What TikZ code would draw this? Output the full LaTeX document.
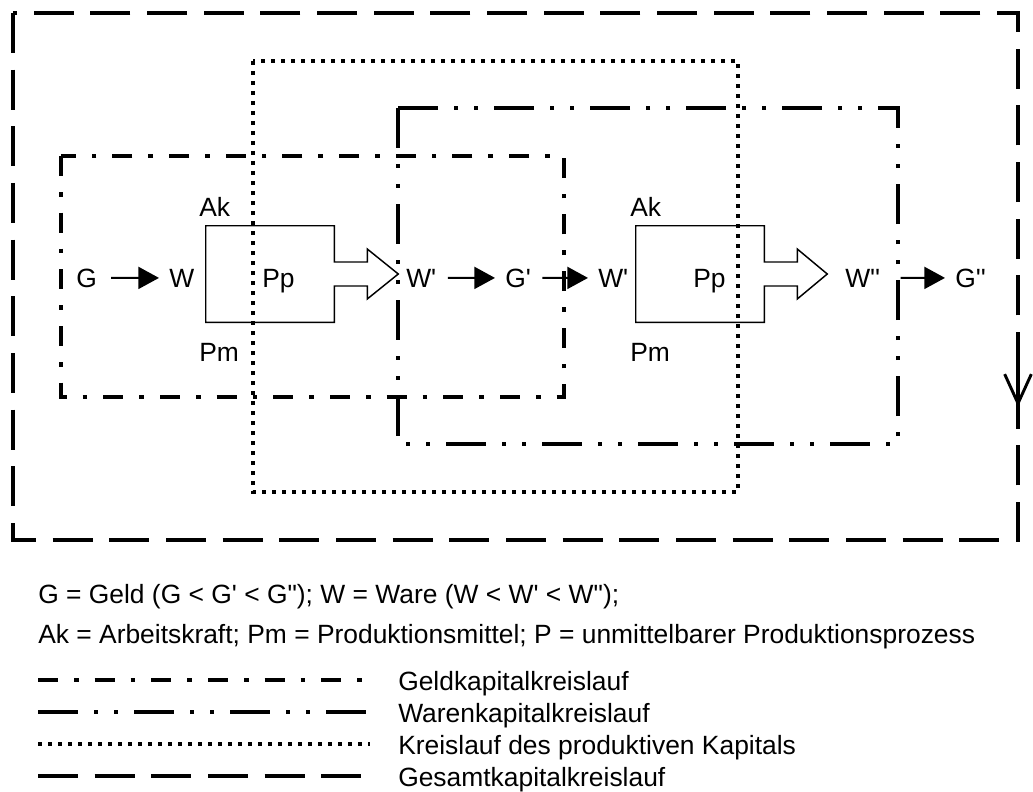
\documentclass[tikz,border=0pt]{standalone}
\usepackage{fontspec}
\newfontfamily\lab{Liberation Sans}
\usetikzlibrary{arrows.meta,calc}

\begin{document}
\begin{tikzpicture}[x=0.75pt,y=-0.75pt,
  lbl/.style={inner sep=0pt,anchor=base west,font=\lab\fontsize{19.8}{23}\selectfont},
  ar/.style={-{Triangle[length=15.5pt,width=16.5pt]},line width=1.5pt,
             shorten <=8.5pt,shorten >=7.5pt},
  proc/.style={minimum width=96pt,minimum height=72pt,inner sep=0pt},
  blk/.style={line width=1.1pt,line join=miter},
  geld/.style={line width=3pt,dash pattern=on 15pt off 12pt on 3.5pt off 12pt},
  waren/.style={line width=3pt,dash pattern=on 30pt off 12pt on 3pt off 12pt on 3pt off 12pt},
  prod/.style={line width=3pt,dash pattern=on 3pt off 4.5pt},
  gesamt/.style={line width=3pt,dash pattern=on 30pt off 12.5pt}]
\useasboundingbox (0,0) rectangle (1033,792);

\draw[gesamt] (13,13) rectangle (1018,540);
\draw[prod] (253,61) rectangle (738,492);
\draw[waren] (398,108) rectangle (898,444);
\draw[geld] (61,156) rectangle (564,397);
\coordinate (ga) at (1018,356);
\coordinate (gb) at (1018,407);
\draw[line width=3pt,-{Straight Barb[length=22pt,width=20pt,line width=2.2pt]}] (ga) -- (gb);

\node[lbl] (g1) at (76,287) {G};
\node[lbl] (w1) at (169,287) {W};
\node[proc] (p1) at (270,274) {};
\node[lbl] (ak1) at (199,216) {Ak};
\node[lbl] (pp1) at (262,287) {Pp};
\node[lbl] (pm1) at (199,361) {Pm};
\node[lbl] (w2) at (406,287) {W'};
\node[lbl] (g2) at (505,287) {G'};
\node[lbl] (w3) at (598,287) {W'};
\node[proc] (p2) at (700,274) {};
\node[lbl] (ak2) at (630,216) {Ak};
\node[lbl] (pp2) at (693,287) {Pp};
\node[lbl] (pm2) at (630,361) {Pm};
\node[lbl] (w4) at (845,287) {W''};
\node[lbl] (g3) at (955,287) {G''};

\draw[blk] ($(p1.east)+(0,-12)$) -- ++(33,0) -- ++(0,-13) -- ($(p1.east)+(64,0)$)
  -- ($(p1.east)+(33,25)$) -- ++(0,-13) -- ($(p1.east)+(0,12)$) -- (p1.south east)
  -- (p1.south west) -- (p1.north west) -- (p1.north east) -- cycle;
\draw[blk] ($(p2.east)+(0,-12)$) -- ++(33,0) -- ++(0,-13) -- ($(p2.east)+(63,0)$)
  -- ($(p2.east)+(33,25)$) -- ++(0,-13) -- ($(p2.east)+(0,12)$) -- (p2.south east)
  -- (p2.south west) -- (p2.north west) -- (p2.north east) -- cycle;

\draw[ar,shorten <=10.5pt] (g1) -- (w1);
\draw[ar] (w2) -- (g2);
\draw[ar] (g2) -- (w3);
\draw[ar,shorten <=15pt] (w4) -- (g3);

\node[lbl] (def1) at (38,603) {G = Geld (G < G' < G"); W = Ware (W < W' < W");};
\node[lbl] (def2) at (38,643) {Ak = Arbeitskraft; Pm = Produktionsmittel; P = unmittelbarer Produktionsprozess};

\draw[geld] (38,680) -- (370,680);
\draw[waren] (38,712) -- (370,712);
\draw[prod] (38,744) -- (370,744);
\draw[gesamt] (38,776) -- (370,776);
\node[lbl] (leg1) at (398,690) {Geldkapitalkreislauf};
\node[lbl] (leg2) at (398,722) {Warenkapitalkreislauf};
\node[lbl] (leg3) at (398,754) {Kreislauf des produktiven Kapitals};
\node[lbl] (leg4) at (398,786) {Gesamtkapitalkreislauf};
\end{tikzpicture}
\end{document}
